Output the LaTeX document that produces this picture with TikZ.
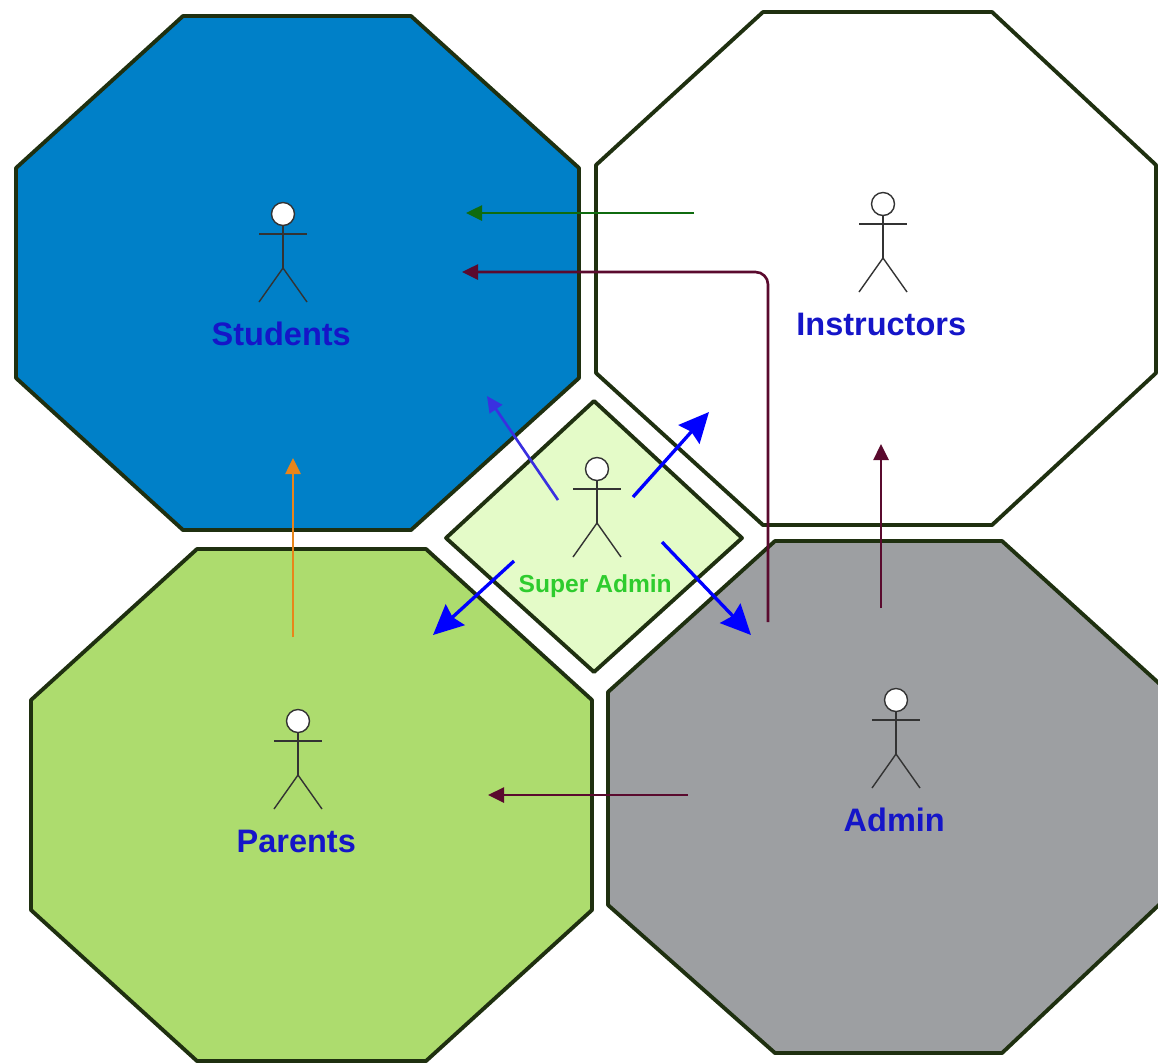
\documentclass[tikz,border=0pt]{standalone}
\usepackage{fontspec}
\setsansfont{Liberation Sans}
\usepackage{xcolor}
\usepackage{tikz}
\usetikzlibrary{shapes,arrows.meta}
\usetikzlibrary{positioning}
\usetikzlibrary{calc}
\definecolor{outline}{HTML}{1F3010}
\definecolor{studentblue}{HTML}{0080C8}
\definecolor{parentgreen}{HTML}{ADDC6E}
\definecolor{admingrey}{HTML}{9D9FA2}
\definecolor{superlime}{HTML}{E4FBC8}
\definecolor{labelblue}{HTML}{1515C8}
\definecolor{labelgreen}{HTML}{2ECC2E}
\definecolor{maroon}{HTML}{5A0A2E}
\definecolor{darkgreen}{HTML}{0F6B0F}
\definecolor{linkorange}{HTML}{E8851A}
\definecolor{linkblue}{HTML}{3A30E0}
\tikzstyle{room} = [draw=outline, line width=2.2pt, line join=round]
\tikzstyle{head} = [draw=black!80, circle, line width=.8pt, fill=white, minimum size=.46cm, inner sep=0pt]
\tikzstyle{limb} = [draw=black!80, line width=.8pt]
\tikzstyle{role} = [font=\sffamily\bfseries\fontsize{18.5}{20}\selectfont, text=labelblue, xshift=-.035cm]
\tikzstyle{line} = [draw, line width=1.5pt, -{Triangle[length=.32cm,width=.3cm]}]
\tikzstyle{bigline} = [draw=blue, line width=1.9pt, -{Stealth[length=.6cm,width=.56cm,inset=.07cm]}]
% stick figure hanging from a named head node: name, x, y
\newcommand{\stickman}[3]{
  \node [head] (#1) at (#2,#3) {};
  \path [limb] (#1) -- ++(0,54) coordinate (#1hip);
  \path [limb] ($(#1)+(-24,20)$) -- ++(48,0);
  \path [limb] (#1hip) -- ++(-24,34);
  \path [limb] (#1hip) -- ++(24,34);
}
\begin{document}
\begin{tikzpicture}[x=.02cm, y=-.02cm, node distance=2.4cm]
  \useasboundingbox (0,0) rectangle (1158,1063);

  % Place rooms
  \path [room, fill=studentblue] (183,16) -- (411,16) -- (579,168) -- (579,378)
    -- (411,530) -- (183,530) -- (16,378) -- (16,168) -- cycle;
  \path [room, fill=white] (763,12) -- (992,12) -- (1156,165) -- (1156,373)
    -- (992,525) -- (763,525) -- (596,373) -- (596,165) -- cycle;
  \path [room, fill=parentgreen] (197,549) -- (426,549) -- (592,700) -- (592,910)
    -- (426,1061) -- (197,1061) -- (31,910) -- (31,700) -- cycle;
  \path [room, fill=admingrey] (775,541) -- (1002,541) -- (1162,686) -- (1162,902)
    -- (1002,1053) -- (775,1053) -- (608,905) -- (608,692) -- cycle;
  \path [room, fill=superlime] (594,401) -- (742,538) -- (594,672) -- (446,538) -- cycle;

  % Place actors
  \stickman{students}{283}{214}
  \stickman{instructors}{883}{204}
  \stickman{parents}{298}{721}
  \stickman{admin}{896}{700}
  \stickman{super}{597}{469}

  \node [role, below of=students] (studentslabel) {Students};
  \node [role, below of=instructors] (instructorslabel) {Instructors};
  \node [role, below of=parents] (parentslabel) {Parents};
  \node [role, below of=admin] (adminlabel) {Admin};
  \node [role, below of=super, node distance=2.34cm, font=\sffamily\bfseries\fontsize{14}{16}\selectfont, text=labelgreen] (superlabel) {Super Admin};

  % Arrow ends
  \coordinate (i1) at (694,213);
  \coordinate (s1) at (466,213);
  \coordinate (a1) at (768,622);
  \coordinate (bend) at (768,272);
  \coordinate (s2) at (462,272);
  \coordinate (p1) at (293,637);
  \coordinate (s3) at (293,458);
  \coordinate (a2) at (881,608);
  \coordinate (i2) at (881,444);
  \coordinate (a3) at (688,795);
  \coordinate (p2) at (488,795);
  \coordinate (o1) at (558,500);
  \coordinate (s4) at (487,396);
  \coordinate (o2) at (633,497);
  \coordinate (i3) at (709,412);
  \coordinate (o3) at (514,561);
  \coordinate (p3) at (433,635);
  \coordinate (o4) at (662,542);
  \coordinate (a4) at (751,635);

  \path [line, draw=darkgreen] (i1) -- (s1);
  \path [line, draw=maroon, rounded corners=.25cm] (a1) -- (bend) -- (s2);
  \path [line, draw=linkorange] (p1) -- (s3);
  \path [line, draw=maroon] (a2) -- (i2);
  \path [line, draw=maroon] (a3) -- (p2);
  \path [line, draw=linkblue] (o1) -- (s4);
  \path [bigline] (o2) -- (i3);
  \path [bigline] (o3) -- (p3);
  \path [bigline] (o4) -- (a4);
\end{tikzpicture}
\end{document}
